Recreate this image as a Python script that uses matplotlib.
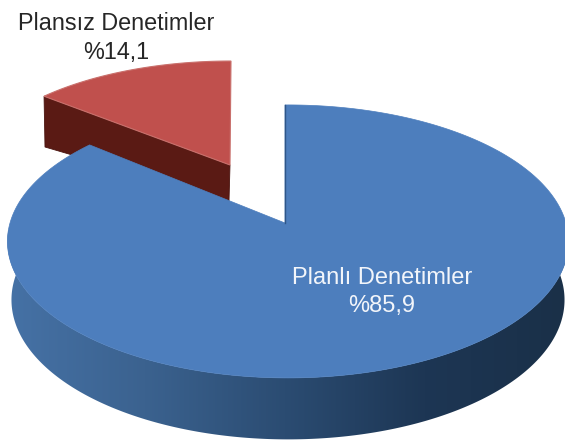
import numpy as np
import matplotlib
matplotlib.use('Agg')
import matplotlib.pyplot as plt
from matplotlib.colors import LinearSegmentedColormap
from matplotlib.patches import Polygon

plt.rcParams['font.family'] = ['Liberation Sans', 'DejaVu Sans']

labels = ['Planlı Denetimler', 'Plansız Denetimler']
shares = [85.9, 14.1]
share_text = ['%85,9', '%14,1']

# pie starts at 12 o'clock and goes clockwise
blue_end = 360 * shares[0] / sum(shares)
red_end = blue_end + 360 * shares[1] / sum(shares)

K = 0.135  # perspective


def arc(cx, cy, a, b, t0, t1, n=300):
    t = np.radians(np.linspace(t0, t1, n))
    d = 1 + K * np.cos(t)
    return np.column_stack([cx + a * np.sin(t) / d, cy - b * np.cos(t) / d])


fig = plt.figure(figsize=(5.65, 4.41), dpi=100)
ax = fig.add_axes([0, 0, 1, 1])

# side of the blue slice, shaded left to right
top_front = arc(288, 223, 278, 134, 82, 278)
base_front = arc(288, 281, 274, 137, 82, 278)
side = Polygon(np.vstack([top_front, base_front[::-1]]), closed=True,
               fc='none', ec='none')
ax.add_patch(side)
side_cmap = LinearSegmentedColormap.from_list(
    'side', ['#1a3048', '#1d3654', '#2b4c72', '#3b628f', '#4672a6'])
grad = ax.imshow(np.linspace(0, 1, 256).reshape(1, -1)[:, ::-1],
                 extent=[5, 565, 441, 230], cmap=side_cmap, aspect='auto', zorder=1)
grad.set_clip_path(side)

# red slice, pulled out
red_apex = (230, 165)
red_arc = arc(red_apex[0] + 1, red_apex[1], 262, 118, blue_end, red_end)
wall = [red_apex, red_arc[0], (45, 147), (229, 201)]
ax.add_patch(Polygon(wall, closed=True, fc='#5a1a14', ec='#4a140f', lw=0.6, zorder=2))
ax.add_patch(Polygon(np.vstack([red_apex, red_arc]), closed=True,
                     fc='#c0504d', ec='#c9706c', lw=0.8, zorder=3))

# blue top face
blue_arc = arc(288, 223, 278, 134, 0, blue_end)
ax.add_patch(Polygon(np.vstack([(285, 223), (285, 105), blue_arc]), closed=True,
                     fc='#4d7ebd', ec='#4d7ebd', lw=0.5, zorder=4))
ax.plot([285, 285], [105, 223], color='#2f5688', lw=1.0, zorder=5)

ax.text(116, 23, labels[1], color='#262626', fontsize=16.8, ha='center', va='center', zorder=6)
ax.text(116, 53, share_text[1], color='#262626', fontsize=16.8, ha='center', va='center', zorder=6)
ax.text(382, 278, labels[0], color='#f2f5fa', fontsize=17, ha='center', va='center', zorder=6)
ax.text(382, 306, share_text[0], color='#f2f5fa', fontsize=17, ha='center', va='center', zorder=6)

ax.set_xlim(0, 565)
ax.set_ylim(441, 0)
ax.axis('off')
fig.savefig('out.png', dpi=100)
